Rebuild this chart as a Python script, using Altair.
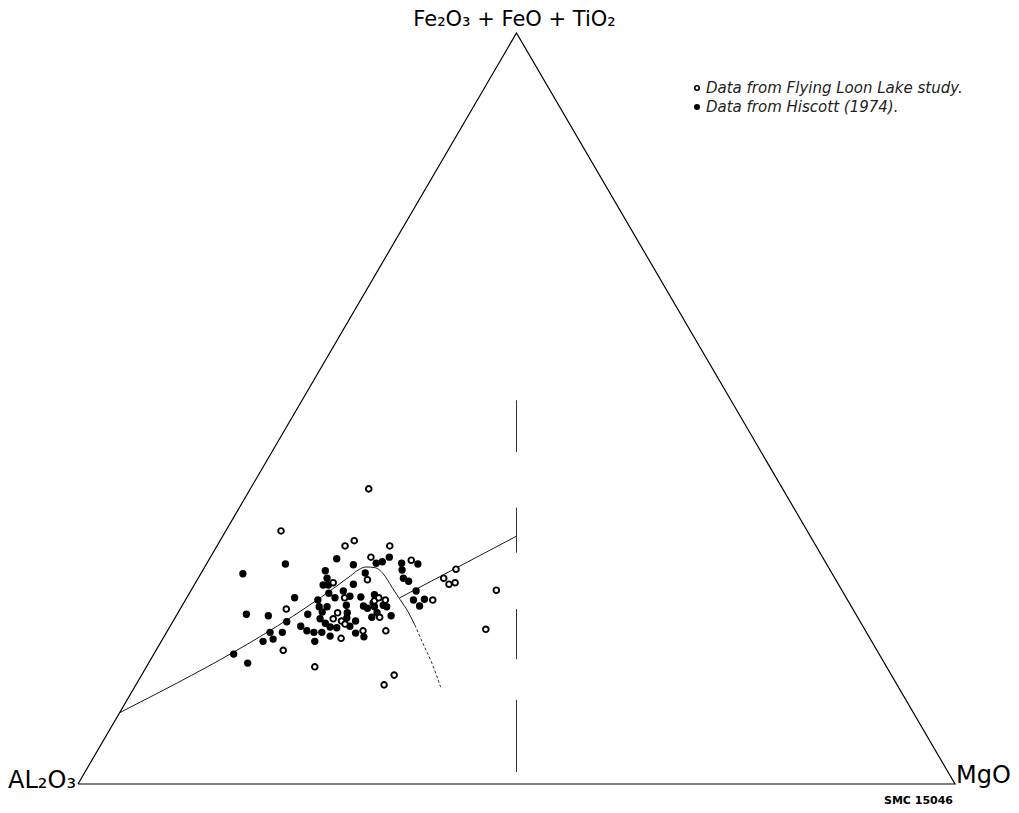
import altair as alt
import pandas as pd

# --- Data: ternary compositions (%), Al2O3 = 100 - MgO - FeT ---
# Flying Loon Lake study (open circles)
loon_mgo = [13.5, 6.3, 14.6, 15.3, 19.7, 18.3, 23.1, 19.4, 28.8, 28.0, 29.0, 29.6, 34.8,
            28.2, 12.1, 21.6, 21.9, 22.8, 23.3, 24.9, 18.2, 18.1, 19.2, 19.8, 22.3, 20.3,
            14.5, 19.2, 28.8, 28.3, 36.2, 15.7, 18.0]
loon_fet = [39.3, 33.7, 31.7, 32.4, 31.7, 30.2, 29.8, 27.2, 28.6, 27.4, 26.6, 26.8, 25.8,
            24.5, 23.3, 24.4, 24.8, 24.5, 22.2, 20.4, 22.8, 22.0, 21.7, 21.3, 20.4, 19.4,
            17.8, 15.6, 14.5, 13.2, 20.6, 26.8, 24.8]
# Hiscott (1974) (filled circles)
hisc_mgo = [4.8, 9.0, 14.5, 16.8, 19.3, 19.9, 20.4, 22.2, 22.7, 24.1, 23.4, 24.2, 25.7,
            26.0, 27.1, 27.2, 18.7, 14.0, 14.7, 14.7, 15.9, 16.9, 18.1, 17.4, 18.5, 19.8,
            12.3, 15.1, 15.7, 16.6, 18.7, 16.4, 14.9, 7.9, 10.5, 13.0, 14.9, 15.9, 16.8,
            17.7, 18.9, 16.6, 17.5, 18.3, 19.1, 19.3, 19.6, 20.8, 20.5, 21.6, 22.8, 21.3,
            21.2, 22.0, 22.4, 22.7, 23.4, 24.5, 11.8, 13.2, 11.6, 12.6, 17.5, 9.1, 11.3,
            20.7, 21.6, 22.9, 15.3]
hisc_fet = [28.0, 29.3, 30.0, 29.2, 29.4, 29.6, 30.2, 29.4, 28.5, 29.3, 27.4, 27.0, 25.7,
            24.5, 23.7, 24.6, 28.1, 28.4, 27.4, 26.5, 25.4, 24.8, 26.6, 25.7, 25.0, 24.9,
            24.8, 24.5, 23.6, 23.6, 23.8, 22.9, 22.6, 22.6, 22.4, 21.6, 21.0, 20.4, 20.2,
            20.2, 19.7, 22.0, 21.4, 20.9, 20.8, 22.8, 22.1, 21.7, 21.0, 20.1, 19.6, 23.4,
            25.2, 23.6, 22.2, 22.8, 23.6, 22.4, 20.2, 20.2, 19.0, 19.3, 19.0, 17.3, 16.1,
            23.7, 24.1, 23.8, 26.5]

# boundary line and curve (MgO, FeT)
curve_mgo = [0.0, 17.2, 17.7, 18.4, 19.5, 20.8, 22.7, 24.4, 26.2, 27.8]
curve_fet = [9.5, 27.7, 28.5, 28.9, 28.8, 28.0, 26.2, 24.6, 22.9, 21.2]
curve2_mgo = [27.8, 29.9, 32.3, 34.9]
curve2_fet = [21.2, 18.8, 16.1, 12.9]
branch_mgo = [24.3, 33.5]
branch_fet = [24.8, 33.0]
# dashed Al2O3 = MgO line, FeT ranges of the dashes
dash_from = [44.2, 30.8, 16.6, 1.6]
dash_to = [51.1, 36.8, 23.3, 11.2]

# vertices (MgO, FeT)
vert_mgo = [0, 100, 0, 0]
vert_fet = [0, 0, 100, 0]


def cart(mgo, fet):
    return pd.DataFrame({
        "x": [m + f / 2 for m, f in zip(mgo, fet)],
        "y": list(fet),
        "o": list(range(len(fet))),
    })


xs = alt.Scale(domain=[-7.982, 106.385], nice=False, zero=False)
ys = alt.Scale(domain=[-2.796, 103.329], nice=False, zero=False)


def X(f="x"):
    return alt.X(f, type="quantitative", scale=xs, axis=None)


def Y(f="y"):
    return alt.Y(f, type="quantitative", scale=ys, axis=None)


frame = alt.Chart(cart(vert_mgo, vert_fet)).mark_line(
    color="black", strokeWidth=1.2).encode(x=X(), y=Y(), order="o:Q")

curve = alt.Chart(cart(curve_mgo, curve_fet)).mark_line(
    color="black", strokeWidth=0.9, interpolate="monotone").encode(x=X(), y=Y(), order="o:Q")
curve2 = alt.Chart(cart(curve2_mgo, curve2_fet)).mark_line(
    color="black", strokeWidth=0.8, strokeDash=[3, 2], interpolate="monotone").encode(
    x=X(), y=Y(), order="o:Q")
branch = alt.Chart(cart(branch_mgo, branch_fet)).mark_line(
    color="black", strokeWidth=0.9).encode(x=X(), y=Y(), order="o:Q")

dash_df = pd.DataFrame({
    "x": [50.0] * len(dash_from),
    "y": dash_from,
    "y2": dash_to,
})
dashes = alt.Chart(dash_df).mark_rule(color="#333333", strokeWidth=1).encode(
    x=X(), y=Y(), y2="y2:Q")

hisc = alt.Chart(cart(hisc_mgo, hisc_fet)).mark_point(
    shape="circle", filled=True, color="black", size=54, opacity=1).encode(x=X(), y=Y())
loon = alt.Chart(cart(loon_mgo, loon_fet)).mark_point(
    shape="circle", filled=True, fill="white", stroke="black", strokeWidth=1.9,
    size=32, opacity=1).encode(x=X(), y=Y())

FONT = "DejaVu Sans"


def label(txt, x, y, **kw):
    df = pd.DataFrame({"x": [x], "y": [y], "t": [txt]})
    return alt.Chart(df).mark_text(font=FONT, color="black", **kw).encode(
        x=X(), y=Y(), text="t:N")


apex = label("Fe₂O₃ + FeO + TiO₂", 50, 100, fontSize=21, align="center",
             baseline="alphabetic", dy=-7, dx=-2)
left = label("AL₂O₃", 0, 0, fontSize=24, align="right", baseline="alphabetic",
             dx=-2, dy=4)
right = label("MgO", 100, 0, fontSize=24, align="left", baseline="alphabetic",
              dx=1, dy=-1)
smc = label("SMC 15046", 100, 0, fontSize=11, fontWeight="bold", align="right",
            baseline="alphabetic", dx=-2, dy=20)

# legend
leg_items = ["Data from Flying Loon Lake study.", "Data from Hiscott (1974)."]
leg1 = pd.DataFrame({"t": [leg_items[0]]})
leg2 = pd.DataFrame({"t": [leg_items[1]]})
lm1 = alt.Chart(leg1).mark_point(shape="circle", filled=True, fill="white", stroke="black",
                                 strokeWidth=1.6, size=20, opacity=1).encode(
    x=alt.value(689), y=alt.value(80))
lm2 = alt.Chart(leg2).mark_point(shape="circle", filled=True, color="black", size=36,
                                 opacity=1).encode(x=alt.value(689), y=alt.value(99))
lt1 = alt.Chart(leg1).mark_text(font=FONT, fontSize=15, fontStyle="italic", color="#222222",
                                align="left", baseline="middle").encode(
    x=alt.value(698), y=alt.value(80), text="t:N")
lt2 = alt.Chart(leg2).mark_text(font=FONT, fontSize=15, fontStyle="italic", color="#222222",
                                align="left", baseline="middle").encode(
    x=alt.value(698), y=alt.value(99), text="t:N")

chart = alt.layer(
    frame, dashes, curve, curve2, branch, hisc, loon,
    apex, left, right, smc, lm1, lm2, lt1, lt2,
).properties(width=1003, height=797, padding=0, background="white").configure_view(stroke=None)

chart.save("out.html", embed_options={"renderer": "svg", "actions": False})
